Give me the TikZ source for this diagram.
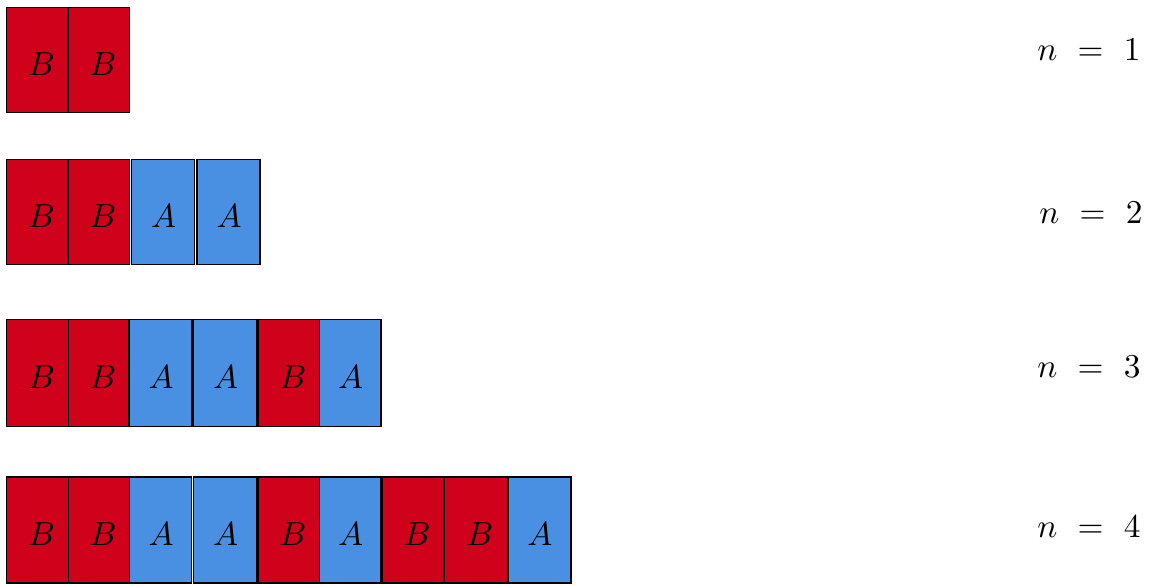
\documentclass[tikz,border=0pt]{standalone}
\definecolor{tred}{RGB}{208,2,27}
\definecolor{tblue}{RGB}{74,144,226}
\newcommand\tilebox[8]{%
  \node[tile, fill=#6, minimum width={(#3-#2)*0.3pt}, minimum height={(#5-#4)*0.3pt}] (#1) at ({(#2+#3)/2},{(#4+#5)/2}) {};
  \node[lett] (#1t) at ([shift={(#8,4)}]#1.center) {$#7$};}
\begin{document}
\begin{tikzpicture}[x=0.3pt,y=-0.3pt,
  tile/.style={draw=black, line width=0.5pt, inner sep=0pt, rectangle},
  lett/.style={inner sep=0pt, font=\normalsize},
  nlab/.style={inner sep=0pt, font=\normalsize}]
\useasboundingbox (0,0) rectangle (1149,584);
% row 1
\tilebox{a1}{6.5}{68}{7.5}{112.5}{tred}{B}{4}
\tilebox{a2}{68}{129.5}{7.5}{112.5}{tred}{B}{4}
% row 2
\tilebox{b1}{6.5}{68}{159.5}{264.5}{tred}{B}{4}
\tilebox{b2}{68}{129.5}{159.5}{264.5}{tred}{B}{4}
\tilebox{b3}{131.5}{194.5}{159.5}{264.5}{tblue}{A}{0.5}
\tilebox{b4}{197}{260}{159.5}{264.5}{tblue}{A}{0.5}
% row 3
\tilebox{c1}{6.5}{68.5}{319.5}{426.5}{tred}{B}{4}
\tilebox{c2}{68.5}{129}{319.5}{426.5}{tred}{B}{4}
\tilebox{c3}{129}{192}{319.5}{426.5}{tblue}{A}{0.5}
\tilebox{c4}{193.5}{256.5}{319.5}{426.5}{tblue}{A}{0.5}
\tilebox{c5}{258}{319.5}{319.5}{426.5}{tred}{B}{4}
\tilebox{c6}{319.5}{381}{319.5}{426.5}{tblue}{A}{0.5}
% row 4
\tilebox{d1}{6.5}{68.5}{477}{583}{tred}{B}{4}
\tilebox{d2}{68.5}{129.5}{477}{583}{tred}{B}{4}
\tilebox{d3}{129.5}{191.5}{477}{583}{tblue}{A}{0.5}
\tilebox{d4}{193.5}{257}{477}{583}{tblue}{A}{0.5}
\tilebox{d5}{258}{319.5}{477}{583}{tred}{B}{4}
\tilebox{d6}{319.5}{381}{477}{583}{tblue}{A}{0.5}
\tilebox{d7}{382}{444}{477}{583}{tred}{B}{4}
\tilebox{d8}{444}{507.5}{477}{583}{tred}{B}{4}
\tilebox{d9}{508}{571}{477}{583}{tblue}{A}{0.5}
% labels
\node[nlab] (n1) at (1089,50) {$n\ =\ 1$};
\node[nlab] (n2) at (1091,213) {$n\ =\ 2$};
\node[nlab] (n3) at (1089,367) {$n\ =\ 3$};
\node[nlab] (n4) at (1089,527) {$n\ =\ 4$};
\end{tikzpicture}
\end{document}
